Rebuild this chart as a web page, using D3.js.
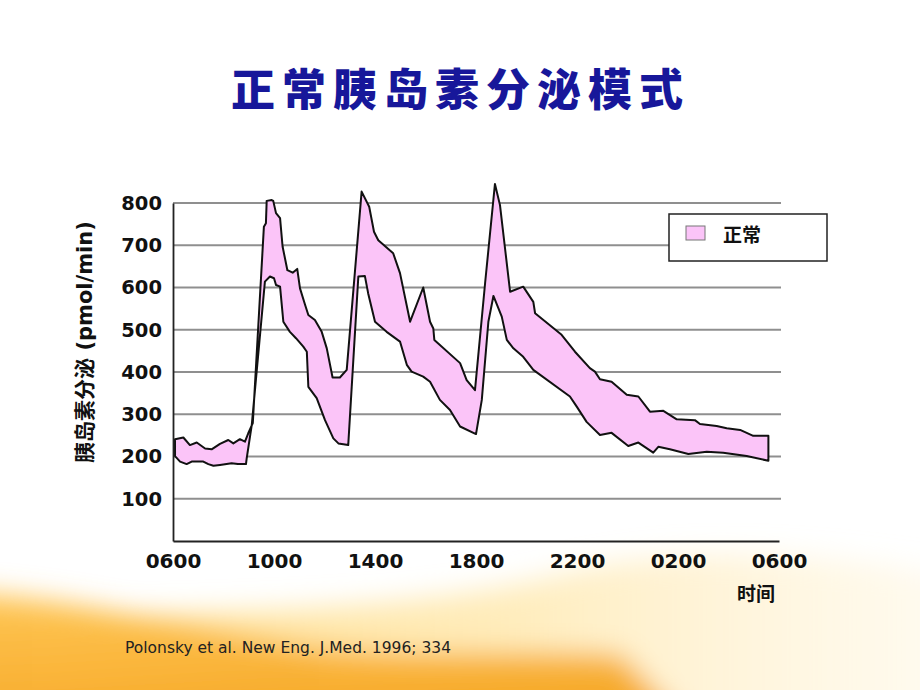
<!DOCTYPE html>
<html>
<head>
  <meta charset="utf-8" />
  <title>正常胰岛素分泌模式</title>
  <script src="https://d3js.org/d3.v7.min.js"></script>
  <style>
    body { margin: 0; background: #fff; }
    svg { display: block; }
  </style>
</head>
<body>
  <div id="chart"></div>
  <script type="text/javascript">
    // hours after 06:00 and insulin secretion (pmol/min)
    var upperHours = [0.08, 0.41, 0.67, 0.94, 1.27, 1.53, 1.86, 2.19, 2.39, 2.65, 2.85, 2.98, 3.16, 3.60, 3.68, 3.71, 3.91, 3.97, 4.08, 4.24, 4.34, 4.53, 4.74, 4.92, 5.03, 5.23, 5.36, 5.62, 5.89, 6.09, 6.32, 6.61, 6.88, 7.47, 7.77, 7.96, 8.13, 8.72, 8.99, 9.39, 9.91, 10.18, 10.31, 10.35, 11.37, 11.63, 11.96, 12.36, 12.75, 12.95, 13.35, 13.87, 14.27, 14.34, 15.39, 15.92, 16.51, 16.71, 16.91, 17.37, 17.97, 18.43, 18.89, 19.42, 19.95, 20.67, 20.87, 21.53, 21.93, 22.46, 22.98, 23.58]
    var upperValues = [241, 245, 227, 233, 219, 217, 230, 239, 231, 241, 235, 255, 279, 744, 752, 805, 807, 805, 776, 764, 697, 641, 635, 644, 598, 559, 535, 523, 495, 456, 387, 387, 405, 827, 791, 732, 712, 681, 634, 519, 600, 519, 503, 476, 421, 381, 357, 610, 845, 795, 590, 602, 566, 539, 488, 448, 409, 401, 383, 377, 346, 342, 306, 308, 288, 286, 277, 272, 267, 263, 249, 249]
    var lowerHours = [0.08, 0.28, 0.54, 0.74, 1.2, 1.4, 1.6, 1.86, 2.32, 2.57, 2.89, 2.92, 3.12, 3.64, 3.84, 4.0, 4.08, 4.24, 4.37, 4.63, 4.87, 5.16, 5.3, 5.36, 5.69, 6.02, 6.35, 6.55, 6.94, 7.34, 7.6, 7.73, 8.0, 8.46, 8.99, 9.26, 9.45, 9.91, 10.18, 10.57, 10.97, 11.37, 12.0, 12.23, 12.49, 12.69, 13.02, 13.22, 13.48, 13.87, 14.27, 15.72, 15.99, 16.38, 16.91, 17.37, 18.03, 18.43, 19.02, 19.22, 19.68, 20.41, 21.14, 21.79, 22.72, 23.58]
    var lowerValues = [201, 188, 182, 188, 188, 182, 178, 180, 184, 182, 182, 196, 275, 614, 626, 622, 606, 602, 519, 495, 480, 460, 448, 365, 338, 286, 243, 231, 227, 626, 627, 586, 519, 495, 472, 417, 401, 389, 377, 334, 310, 271, 253, 334, 519, 580, 531, 476, 456, 436, 405, 342, 318, 282, 251, 256, 225, 233, 209, 223, 217, 206, 211, 209, 201, 190]

    var xTickHours = [0, 4, 8, 12, 16, 20, 24]
    var xTickLabels = ["0600", "1000", "1400", "1800", "2200", "0200", "0600"]
    var yTicks = [100, 200, 300, 400, 500, 600, 700, 800]

    var titleText = "正常胰岛素分泌模式"
    var yLabel = "胰岛素分泌 (pmol/min)"
    var xLabel = "时间"
    var seriesName = "正常"
    var citation = "Polonsky et al. New Eng. J.Med. 1996; 334"

    var width = 920, height = 690
    var plotLeft = 173, plotRight = 779, plotTop = 203, plotBottom = 541

    var svg = d3.select("#chart").append("svg")
      .attr("width", width).attr("height", height)

    // background swoosh
    var defs = svg.append("defs")
    var blur = defs.append("filter").attr("id", "soft").attr("x", "-20%").attr("y", "-50%").attr("width", "140%").attr("height", "200%")
    blur.append("feGaussianBlur").attr("stdDeviation", 14)

    var g1 = defs.append("linearGradient").attr("id", "sweep").attr("x1", 0).attr("x2", 1).attr("y1", 0).attr("y2", 0)
    g1.append("stop").attr("offset", 0).attr("stop-color", "#ffd777").attr("stop-opacity", 0.9)
    g1.append("stop").attr("offset", 0.55).attr("stop-color", "#ffe6a6").attr("stop-opacity", 0.75)
    g1.append("stop").attr("offset", 1).attr("stop-color", "#fff3d6").attr("stop-opacity", 0.35)

    var g2 = defs.append("linearGradient").attr("id", "orange").attr("x1", 0).attr("x2", 0.3).attr("y1", 0).attr("y2", 1)
    g2.append("stop").attr("offset", 0).attr("stop-color", "#ffc653")
    g2.append("stop").attr("offset", 1).attr("stop-color", "#f5a21c")

    var bg = svg.append("g").attr("filter", "url(#soft)")
    bg.append("path")
      .attr("d", "M-40,620 C150,610 380,620 560,575 C660,548 780,548 960,575 L960,740 L-40,740 Z")
      .attr("fill", "url(#sweep)")
    bg.append("path")
      .attr("d", "M-40,592 C80,598 200,632 320,648 C420,658 520,650 620,655 L700,740 L-40,740 Z")
      .attr("fill", "url(#orange)").attr("opacity", 0.95)

    var x = d3.scaleLinear().domain([0, 24]).range([plotLeft, plotRight])
    var y = d3.scaleLinear().domain([0, 800]).range([plotBottom, plotTop])

    // gridlines
    svg.append("g").selectAll("line").data(yTicks).join("line")
      .attr("x1", plotLeft).attr("x2", plotRight + 2)
      .attr("y1", d => y(d)).attr("y2", d => y(d))
      .attr("stroke", "#8f8f8f").attr("stroke-width", 1.8)

    // band
    var upper = upperHours.map((h, i) => [h, upperValues[i]])
    var lower = lowerHours.map((h, i) => [h, lowerValues[i]])
    var band = upper.concat(lower.slice().reverse())
    var line = d3.line().x(d => x(d[0])).y(d => y(d[1]))
    svg.append("path")
      .attr("d", line(band) + "Z")
      .attr("fill", "#fbc4f8")
      .attr("stroke", "#111")
      .attr("stroke-width", 2)
      .attr("stroke-linejoin", "round")

    // axes
    var yAxis = svg.append("g").attr("transform", "translate(" + plotLeft + ",0)")
      .call(d3.axisLeft(y).tickValues(yTicks).tickSize(0).tickPadding(11))
    yAxis.select(".domain").attr("stroke", "#222").attr("stroke-width", 1.8)
    yAxis.selectAll("text")
      .attr("font-family", "DejaVu Sans, Verdana, sans-serif")
      .attr("font-weight", "bold").attr("font-size", 19.5).attr("fill", "#111")

    var xAxis = svg.append("g").attr("transform", "translate(0," + plotBottom + ")")
      .call(d3.axisBottom(x).tickValues(xTickHours).tickFormat((d, i) => xTickLabels[i]).tickSize(0).tickPadding(13))
    xAxis.select(".domain").attr("stroke", "#222").attr("stroke-width", 1.8)
    xAxis.selectAll("text")
      .attr("font-family", "DejaVu Sans, Verdana, sans-serif")
      .attr("font-weight", "bold").attr("font-size", 20).attr("fill", "#111")

    // title
    svg.append("text")
      .attr("x", 231).attr("y", 106)
      .attr("font-family", "Noto Sans CJK SC")
      .attr("font-weight", 900).attr("font-size", 44)
      .attr("letter-spacing", 7)
      .attr("fill", "#17179a")
      .text(titleText)

    // axis titles
    svg.append("text")
      .attr("transform", "translate(92,342) rotate(-90)")
      .attr("text-anchor", "middle")
      .attr("font-family", "DejaVu Sans, Noto Sans CJK SC, sans-serif")
      .attr("font-weight", "bold").attr("font-size", 21).attr("fill", "#111")
      .text(yLabel)

    svg.append("text")
      .attr("x", 756).attr("y", 601)
      .attr("text-anchor", "middle")
      .attr("font-family", "Noto Sans CJK SC")
      .attr("font-weight", "bold").attr("font-size", 19).attr("fill", "#111")
      .text(xLabel)

    // legend
    var legend = svg.append("g")
    legend.append("rect")
      .attr("x", 669).attr("y", 214).attr("width", 158).attr("height", 47)
      .attr("fill", "#fff").attr("stroke", "#222").attr("stroke-width", 1.5)
    legend.append("rect")
      .attr("x", 686).attr("y", 226).attr("width", 19).attr("height", 14)
      .attr("fill", "#fbc4f8").attr("stroke", "#777").attr("stroke-width", 1)
    legend.append("text")
      .attr("x", 723).attr("y", 242)
      .attr("font-family", "Noto Sans CJK SC")
      .attr("font-weight", "bold").attr("font-size", 19).attr("fill", "#111")
      .text(seriesName)

    // source
    svg.append("text")
      .attr("x", 125).attr("y", 653)
      .attr("font-family", "DejaVu Sans, sans-serif")
      .attr("font-size", 15.5).attr("fill", "#222")
      .text(citation)
  </script>
</body>
</html>
